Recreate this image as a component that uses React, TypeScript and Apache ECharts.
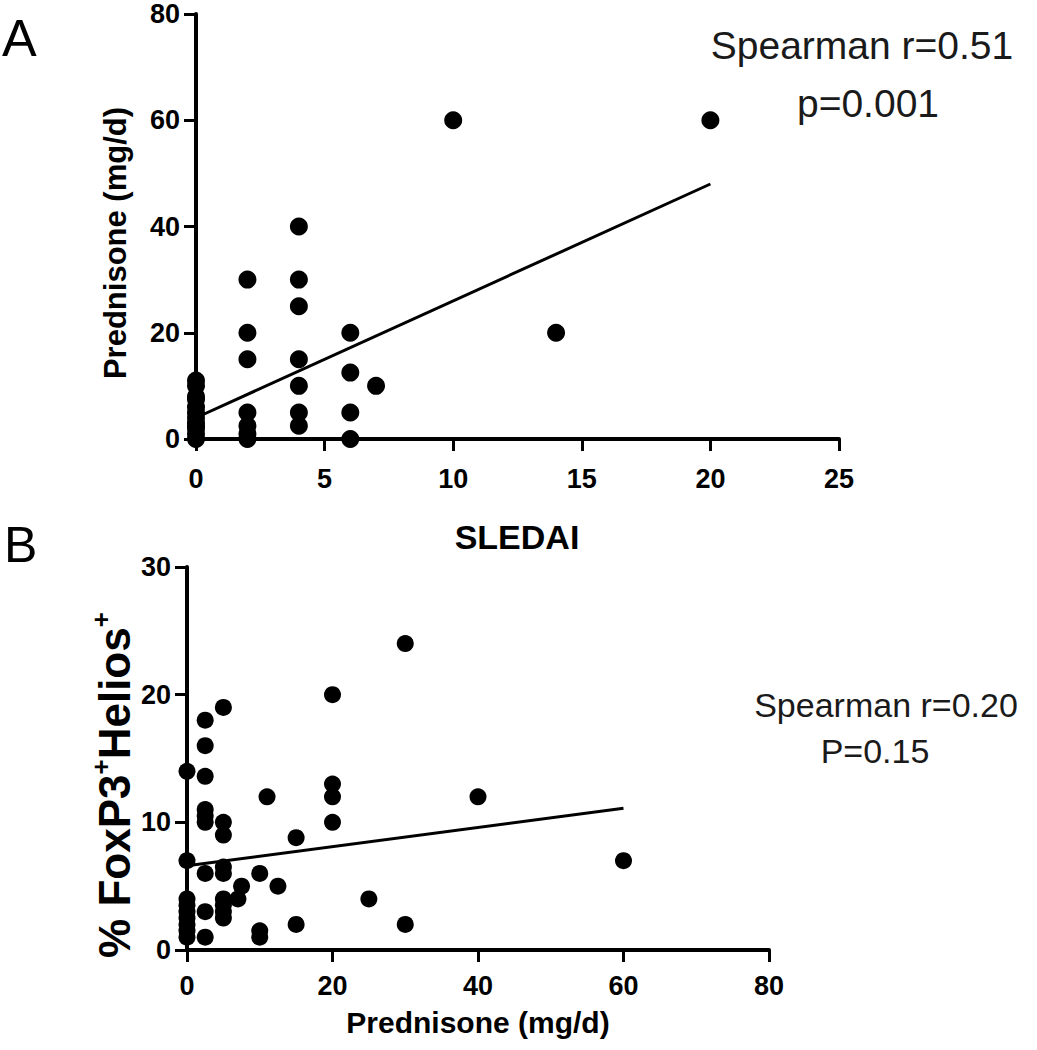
import React, { useEffect, useRef } from "react";
import * as echarts from "echarts";

// Panel A: SLEDAI vs Prednisone
const panelA_sledai = [0, 0, 0, 0, 0, 0, 0, 0, 0, 0, 0, 0, 2, 2, 2, 2, 2, 2, 2, 4, 4, 4, 4, 4, 4, 4, 6, 6, 6, 6, 7, 10, 14, 20];
const panelA_pred = [0, 1, 2, 2.5, 3, 4, 5, 6, 7.5, 8, 10, 11, 0, 1, 2.5, 5, 15, 20, 30, 2.5, 5, 10, 15, 25, 30, 40, 0, 5, 12.5, 20, 10, 60, 20, 60];
const panelA_fitX = [0, 20];
const panelA_fitY = [4, 48];
const panelA_xTicks = { min: 0, max: 25, interval: 5 };
const panelA_yTicks = { min: 0, max: 80, interval: 20 };

// Panel B: Prednisone vs % FoxP3+Helios+
const panelB_pred = [
  0, 0, 0, 0, 0, 0, 0, 0, 0,
  2.5, 2.5, 2.5, 2.5, 2.5, 2.5, 2.5, 2.5, 2.5,
  5, 5, 5, 5, 5, 5, 5, 5, 5,
  7.5, 7, 10, 10, 10, 11, 12.5, 15, 15, 20, 20, 20, 20, 25, 30, 30, 40, 60,
];
const panelB_foxp3 = [
  14, 7, 4, 3.5, 3, 2.5, 2, 1.5, 1,
  18, 16, 13.6, 11, 10.5, 10, 6, 3, 1,
  19, 10, 9, 6.5, 6, 4, 3.5, 3, 2.5,
  5, 4, 6, 1.5, 1, 12, 5, 8.8, 2, 20, 13, 12, 10, 4, 24, 2, 12, 7,
];
const panelB_fitX = [0, 60];
const panelB_fitY = [6.6, 11.1];
const panelB_xTicks = { min: 0, max: 80, interval: 20 };
const panelB_yTicks = { min: 0, max: 30, interval: 10 };

const statsA = ["Spearman r=0.51", "p=0.001"];
const statsB = ["Spearman r=0.20", "P=0.15"];

const SANS = "'Liberation Sans', Arial, sans-serif";

function zip(xs: number[], ys: number[]) {
  return xs.map((x, i) => [x, ys[i]]);
}

function axisCommon(ticks: { min: number; max: number; interval: number }, margin: number) {
  return {
    type: "value",
    min: ticks.min,
    max: ticks.max,
    interval: ticks.interval,
    splitLine: { show: false },
    axisLine: { show: true, onZero: false, lineStyle: { color: "#000", width: 4 } },
    axisTick: { show: true, length: 12, lineStyle: { color: "#000", width: 3 } },
    axisLabel: {
      color: "#000",
      fontFamily: SANS,
      fontWeight: "bold",
      fontSize: 27,
      margin,
    },
  };
}

export default function App() {
  const ref = useRef<HTMLDivElement>(null);
  useEffect(() => {
    if (!ref.current) return;
    const chart = echarts.init(ref.current, undefined, { renderer: "svg" });
    const option: any = {
      animation: false,
      backgroundColor: "#fff",
      grid: [
        { left: 196, top: 14, width: 643, height: 425 },
        { left: 187, top: 567, width: 582, height: 383 },
      ],
      xAxis: [
        { ...axisCommon(panelA_xTicks, 26), gridIndex: 0 },
        { ...axisCommon(panelB_xTicks, 22), gridIndex: 1 },
      ],
      yAxis: [
        { ...axisCommon(panelA_yTicks, 16), gridIndex: 0 },
        { ...axisCommon(panelB_yTicks, 16), gridIndex: 1 },
      ],
      series: [
        {
          type: "scatter",
          xAxisIndex: 0,
          yAxisIndex: 0,
          data: zip(panelA_sledai, panelA_pred),
          symbolSize: 18,
          itemStyle: { color: "#000", opacity: 1 },
          clip: false,
          z: 5,
        },
        {
          type: "line",
          xAxisIndex: 0,
          yAxisIndex: 0,
          data: zip(panelA_fitX, panelA_fitY),
          showSymbol: false,
          lineStyle: { color: "#000", width: 3 },
          z: 4,
        },
        {
          type: "scatter",
          xAxisIndex: 1,
          yAxisIndex: 1,
          data: zip(panelB_pred, panelB_foxp3),
          symbolSize: 17,
          itemStyle: { color: "#000", opacity: 1 },
          clip: false,
          z: 5,
        },
        {
          type: "line",
          xAxisIndex: 1,
          yAxisIndex: 1,
          data: zip(panelB_fitX, panelB_fitY),
          showSymbol: false,
          lineStyle: { color: "#000", width: 3 },
          z: 4,
        },
      ],
      graphic: [
        { type: "text", left: 2, top: 12, style: { text: "A", fontSize: 52, fontFamily: SANS, fill: "#000" } },
        { type: "text", left: 4, top: 520, style: { text: "B", fontSize: 50, fontFamily: SANS, fill: "#000" } },
        {
          type: "text", x: 862, y: 65,
          style: { text: statsA[0], fontSize: 39, fontFamily: SANS, fill: "#1a1a1a", align: "center", verticalAlign: "bottom" },
        },
        {
          type: "text", x: 868, y: 123,
          style: { text: statsA[1], fontSize: 39, fontFamily: SANS, fill: "#1a1a1a", align: "center", verticalAlign: "bottom" },
        },
        {
          type: "text", x: 886, y: 722,
          style: { text: statsB[0], fontSize: 34, fontFamily: SANS, fill: "#1a1a1a", align: "center", verticalAlign: "bottom" },
        },
        {
          type: "text", x: 875, y: 768,
          style: { text: statsB[1], fontSize: 34, fontFamily: SANS, fill: "#1a1a1a", align: "center", verticalAlign: "bottom" },
        },
        {
          type: "text", x: 517, y: 537,
          style: { text: "SLEDAI", fontSize: 34, fontWeight: "bold", fontFamily: SANS, fill: "#000", align: "center", verticalAlign: "middle" },
        },
        {
          type: "text", x: 478, y: 1022,
          style: { text: "Prednisone (mg/d)", fontSize: 30, fontWeight: "bold", fontFamily: SANS, fill: "#000", align: "center", verticalAlign: "middle" },
        },
        {
          type: "text", x: 115, y: 243, rotation: Math.PI / 2,
          style: { text: "Prednisone (mg/d)", fontSize: 31, fontWeight: "bold", fontFamily: SANS, fill: "#000", align: "center", verticalAlign: "middle" },
        },
        {
          type: "text", x: 112, y: 785, rotation: Math.PI / 2,
          style: {
            text: "{a|% FoxP3}{s|+}{a|Helios}{s|+}",
            align: "center",
            verticalAlign: "middle",
            rich: {
              a: { fontSize: 44, fontWeight: "bold", fontFamily: SANS, fill: "#000", lineHeight: 48, verticalAlign: "bottom" },
              s: { fontSize: 26, fontWeight: "bold", fontFamily: SANS, fill: "#000", lineHeight: 48, verticalAlign: "top" },
            },
          },
        },
      ],
    };
    chart.setOption(option);
    return () => chart.dispose();
  }, []);
  return <div ref={ref} style={{ position: "absolute", left: 0, top: 0, width: 1037, height: 1050 }} />;
}
